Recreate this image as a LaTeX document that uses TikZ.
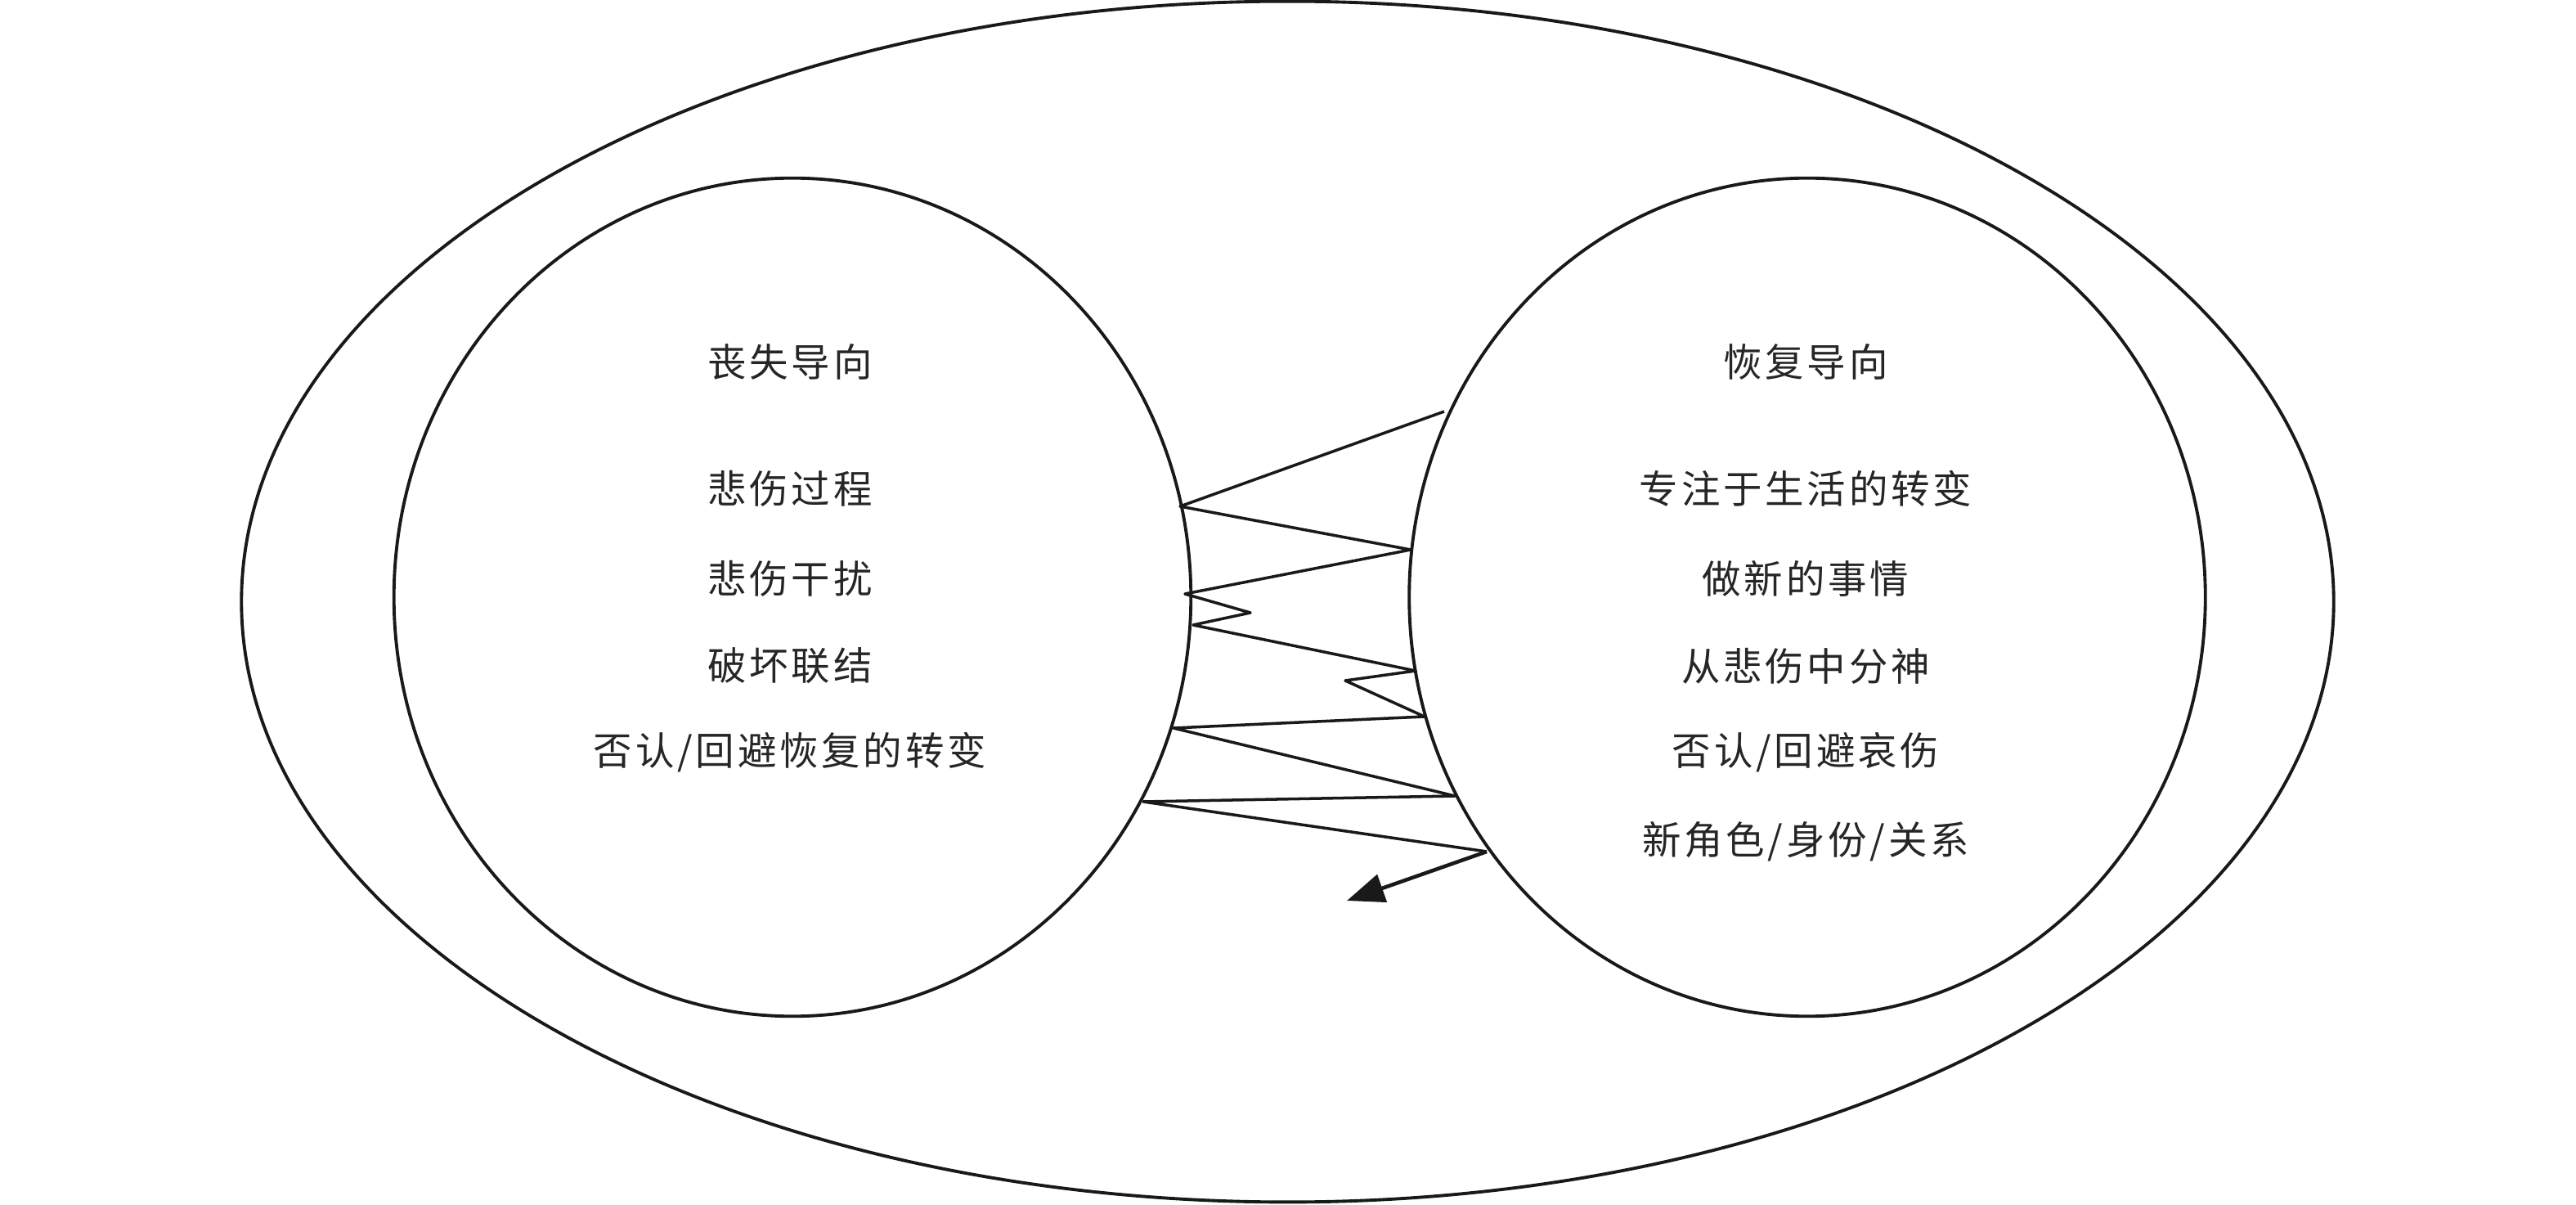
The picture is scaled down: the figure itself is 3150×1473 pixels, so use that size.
\documentclass[tikz,border=0pt]{standalone}
\usepackage{fontspec}
\setmainfont{Noto Sans CJK SC}[LetterSpace=8]
\usetikzlibrary{shapes.geometric,arrows.meta}
\tikzset{
  ring/.style={draw=black!90, line width=1.1pt, ellipse, inner sep=0pt},
  label/.style={font=\fontsize{13.5pt}{16pt}\selectfont, text=black!85, inner sep=0pt},
  zig/.style={draw=black!90, line width=1pt, line join=round}
}
\begin{document}
\begin{tikzpicture}[x=0.01cm,y=-0.01cm]
\useasboundingbox (0,0) rectangle (3150,1473);
% outer ellipse
\node[ring, minimum width=25.57cm, minimum height=14.67cm] (outer) at (1574.5,735.5) {};
% inner circles
\node[ring, minimum width=9.74cm, minimum height=10.24cm] (loss) at (969,730) {};
\node[ring, minimum width=9.73cm, minimum height=10.24cm] (rest) at (2210,730) {};
% left texts
\node[label] (lt) at (966,442) {丧失导向};
\node[label] (l1) at (966,597) {悲伤过程};
\node[label] (l2) at (966,707) {悲伤干扰};
\node[label] (l3) at (966,814) {破坏联结};
\node[label] (l4) at (966,920) {否认/回避恢复的转变};
% right texts
\node[label] (rt) at (2208,442) {恢复导向};
\node[label] (r1) at (2208,597) {专注于生活的转变};
\node[label] (r2) at (2208,707) {做新的事情};
\node[label] (r3) at (2208,814) {从悲伤中分神};
\node[label] (r4) at (2208,920) {否认/回避哀伤};
\node[label] (r5) at (2208,1029) {新角色/身份/关系};
% zigzag oscillation
\coordinate (z0) at (1766,503);
\coordinate (z1) at (1443,619);
\coordinate (z2) at (1725,672);
\coordinate (z3) at (1449,726);
\coordinate (z4) at (1529,749);
\coordinate (z5) at (1459,764);
\coordinate (z6) at (1731,820);
\coordinate (z7) at (1645,832);
\coordinate (z8) at (1742,876);
\coordinate (z9) at (1435,890);
\coordinate (z10) at (1779,973);
\coordinate (z11) at (1398,980);
\coordinate (z12) at (1818,1041);
\coordinate (tip) at (1647,1101);
\draw[zig] (z0) -- (z1) -- (z2) -- (z3) -- (z4) -- (z5) -- (z6) -- (z7) -- (z8) -- (z9) -- (z10) -- (z11) -- (z12);
\draw[zig, line width=1.3pt, -{Triangle[length=13pt,width=10pt]}] (z12) -- (tip);
\end{tikzpicture}
\end{document}
